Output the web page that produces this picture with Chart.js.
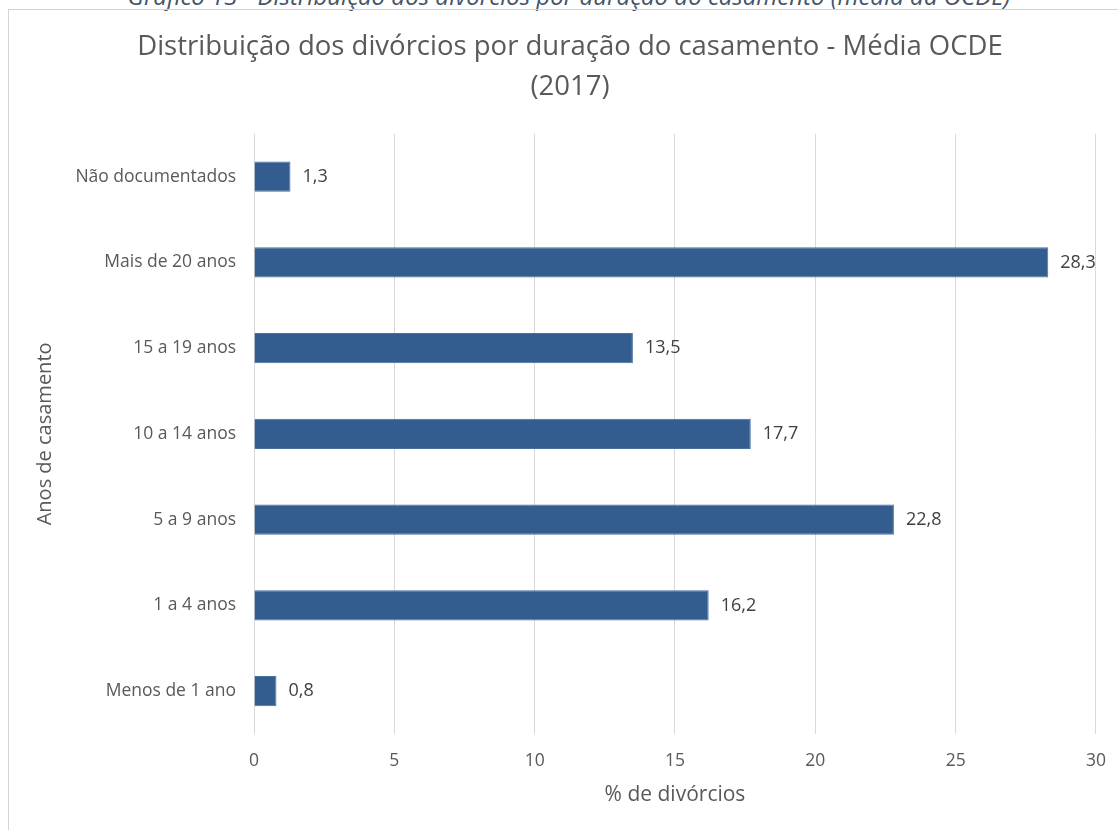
<!DOCTYPE html>
<html>
<head>
<meta charset="utf-8">
<script src="https://cdn.jsdelivr.net/npm/chart.js@4/dist/chart.umd.min.js"></script>
<style>
  body { margin: 0; background: #fff; width: 1118px; height: 830px; overflow: hidden; position: relative; }
  #caption {
    position: absolute; left: 10px; width: 1118px; top: -16px; text-align: center;
    font: italic 24px/24px "Open Sans", sans-serif; color: #44546a; white-space: nowrap;
  }
  #frame {
    position: absolute; left: 8px; top: 9px; width: 1130px; height: 830px;
    border-left: 1px solid #d4d4d4; border-top: 1px solid #d4d4d4;
  }
  #wrap { position: absolute; left: 0; top: 0; width: 1114px; height: 821px; }
</style>
</head>
<body>
<div id="caption">Gráfico 13 - Distribuição dos divórcios por duração do casamento (média da OCDE)</div>
<div id="frame"><div id="wrap"><canvas id="myChart"></canvas></div></div>
<script>
const ctx = document.getElementById("myChart").getContext("2d");

// Categories, top to bottom as in the picture
const categories = ["Não documentados", "Mais de 20 anos", "15 a 19 anos", "10 a 14 anos", "5 a 9 anos", "1 a 4 anos", "Menos de 1 ano"];
const divorcePct = [1.3, 28.3, 13.5, 17.7, 22.8, 16.2, 0.8];
const xTicks = [0, 5, 10, 15, 20, 25, 30];

const textColor = "#595959";
const fontFamily = "'Open Sans', sans-serif";

// Draw the value next to the end of each bar (comma decimal)
const valueLabels = {
  id: "valueLabels",
  afterDatasetsDraw(chart) {
    const c = chart.ctx;
    const meta = chart.getDatasetMeta(0);
    c.save();
    c.font = "18px " + fontFamily;
    c.fillStyle = "#404040";
    c.textAlign = "left";
    c.textBaseline = "middle";
    meta.data.forEach((bar, i) => {
      const txt = divorcePct[i].toFixed(1).replace(".", ",");
      c.fillText(txt, bar.x + 12, bar.y);
    });
    c.restore();
  }
};

const myChart = new Chart(ctx, {
  type: "bar",
  data: {
    labels: categories,
    datasets: [{
      data: divorcePct,
      backgroundColor: "#335d8f",
      borderColor: "#4670a0",
      borderWidth: 1,
      barPercentage: 0.35,
      categoryPercentage: 1
    }]
  },
  options: {
    indexAxis: "y",
    responsive: true,
    maintainAspectRatio: false,
    animation: false,
    // left padding pushes the chart title to the right, y axis width is reduced to match
    layout: { padding: { left: 24, right: 16, top: 0, bottom: 0 } },
    plugins: {
      legend: { display: false },
      tooltip: { enabled: false },
      title: {
        display: true,
        text: ["Distribuição dos divórcios por duração do casamento - Média OCDE", "(2017)"],
        color: textColor,
        font: { family: fontFamily, size: 27.5, weight: "normal", lineHeight: 1.45 },
        padding: { top: 17, bottom: 27 }
      }
    },
    scales: {
      x: {
        min: 0,
        max: 30,
        afterBuildTicks: (scale) => { scale.ticks = xTicks.map(v => ({ value: v })); },
        afterFit: (scale) => { scale.height = 97; },
        grid: { color: "#d9d9d9", lineWidth: 1, drawTicks: false },
        border: { display: false },
        ticks: { color: textColor, padding: 17, font: { family: fontFamily, size: 17.5 } },
        title: {
          display: true,
          text: "% de divórcios",
          color: textColor,
          font: { family: fontFamily, size: 21 },
          padding: { top: 0, bottom: 23 }
        }
      },
      y: {
        afterFit: (scale) => { scale.width = 221; },
        grid: { display: false, drawTicks: false },
        border: { display: false },
        ticks: { color: textColor, padding: 18, font: { family: fontFamily, size: 17.5 } },
        title: {
          display: true,
          text: "Anos de casamento",
          color: textColor,
          font: { family: fontFamily, size: 20 },
          padding: { top: 0, bottom: 0 }
        }
      }
    }
  },
  plugins: [valueLabels]
});
</script>
</body>
</html>
